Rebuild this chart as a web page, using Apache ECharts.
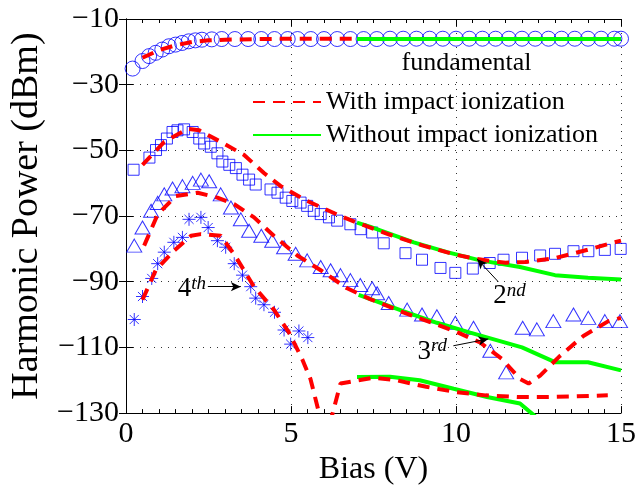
<!DOCTYPE html>
<html>
<head>
<meta charset="utf-8">
<script src="https://cdn.jsdelivr.net/npm/echarts@6/dist/echarts.min.js"></script>
<style>
html,body{margin:0;padding:0;background:#fff;}
#chart{width:639px;height:491px;}
</style>
</head>
<body>
<div id="chart"></div>
<script>
// ---- axis ticks ----
const xTicks = [0, 5, 10, 15];
const yTicks = [-130, -110, -90, -70, -50, -30, -10];

// ---- fundamental ----
const fundMeasured = [[0.2,-25.1],[0.5,-22.8],[0.7,-21.3],[0.9,-20.3],[1.1,-19.3],[1.3,-18.3],[1.5,-17.8],[1.7,-17.3],[1.9,-16.8],[2.1,-16.5],[2.3,-16.3],[2.6,-16.2],[2.9,-16.1],[3.3,-16.1],[3.7,-16.1],[4.1,-16.1],[4.5,-16.1],[4.9,-16.1],[5.2,-16.1],[5.6,-16.1],[6.0,-16.1],[6.4,-16.1],[6.8,-16.1],[7.2,-16.1],[7.6,-16.1],[8.0,-16.0],[8.4,-16.0],[8.8,-16.0],[9.2,-16.0],[9.6,-16.0],[10.0,-16.0],[10.4,-16.0],[10.8,-16.0],[11.2,-16.0],[11.6,-16.0],[12.0,-16.0],[12.4,-16.0],[12.8,-16.0],[13.2,-16.0],[13.6,-16.0],[14.0,-16.0],[14.4,-16.0],[14.8,-16.0],[15.0,-16.0]];
const fundWithII = [[0.5,-21.8],[1.0,-19.5],[1.5,-18.0],[2.0,-17.0],[2.5,-16.5],[3.0,-16.3],[4.0,-16.1],[5.0,-16.0],[6.0,-16.0],[7.0,-16.0]];
const fundWithoutII = [[7.0,-16.1],[9.0,-16.1],[11.0,-16.1],[13.0,-16.1],[15.0,-16.1]];

// ---- 2nd harmonic ----
const h2Measured = [[0.23,-55.9],[0.71,-52.2],[0.91,-49.9],[1.06,-48.4],[1.24,-46.4],[1.41,-44.4],[1.56,-43.9],[1.76,-43.6],[2.02,-44.4],[2.22,-46.4],[2.37,-47.9],[2.57,-48.9],[2.77,-50.9],[2.92,-53.4],[3.13,-54.4],[3.33,-55.4],[3.53,-57.4],[3.73,-58.9],[3.93,-60.4],[4.38,-61.9],[4.59,-62.9],[4.84,-64.4],[5.04,-65.4],[5.29,-65.9],[5.49,-66.9],[5.69,-68.4],[5.90,-69.4],[6.15,-70.4],[6.40,-71.4],[6.80,-72.5],[7.11,-74.0],[7.46,-75.0],[7.81,-78.3],[8.47,-81.3],[8.97,-83.3],[9.53,-85.8],[9.98,-87.3],[10.51,-86.0],[11.02,-84.3],[11.44,-83.3],[12.0,-82.7],[12.55,-82.0],[13.0,-81.5],[13.56,-80.7],[14.01,-80.7],[14.51,-80.3],[14.99,-80.0]];
const h2WithII = [[0.5,-54.4],[1.16,-47.4],[1.87,-43.4],[2.22,-43.9],[2.87,-47.4],[3.58,-51.4],[4.18,-56.9],[4.69,-60.9],[5.49,-65.4],[6.5,-70.0],[7.0,-72.0],[8.0,-75.7],[9.0,-79.0],[10.0,-81.8],[10.5,-82.8],[11.0,-83.6],[11.5,-84.2],[12.1,-84.0],[13.0,-82.8],[13.9,-80.5],[14.8,-78.0],[15.0,-77.5]];
const h2WithoutII = [[7.0,-72.0],[7.41,-73.3],[8.72,-78.0],[9.73,-81.0],[10.73,-83.5],[11.94,-85.5],[13.0,-88.0],[14.0,-88.8],[15.0,-89.3]];

// ---- 3rd harmonic ----
const h3Measured = [[0.25,-79.0],[0.5,-73.5],[0.76,-68.4],[0.96,-66.0],[1.16,-63.4],[1.41,-61.6],[1.71,-60.9],[2.02,-59.9],[2.27,-58.9],[2.52,-59.4],[2.87,-63.4],[3.18,-67.4],[3.48,-71.0],[3.73,-74.5],[4.1,-76.0],[4.43,-77.5],[4.79,-79.5],[5.14,-81.5],[5.49,-83.5],[5.9,-85.5],[6.2,-86.5],[6.5,-88.0],[6.8,-89.5],[7.1,-91.0],[7.46,-92.0],[7.61,-93.5],[7.96,-96.5],[8.52,-98.5],[8.97,-100.0],[9.42,-100.5],[9.98,-102.5],[10.53,-104.0],[11.04,-111.0],[11.52,-117.6],[12.02,-104.0],[12.45,-104.5],[12.95,-102.0],[13.56,-100.0],[14.01,-101.0],[14.51,-102.0],[14.97,-102.0]];
const h3WithII = [[0.55,-79.0],[0.96,-69.5],[1.51,-63.9],[2.17,-62.9],[2.77,-64.4],[3.28,-66.4],[3.88,-70.4],[4.48,-76.0],[5.19,-82.0],[5.9,-86.5],[6.7,-92.0],[7.4,-95.3],[8.4,-99.3],[9.4,-103.0],[10.0,-105.2],[10.73,-108.5],[11.39,-113.5],[11.94,-119.6],[12.2,-121.0],[12.55,-118.6],[13.15,-112.6],[13.86,-106.5],[14.62,-102.0],[15.0,-101.0]];
const h3WithoutII = [[7.05,-94.0],[8.42,-99.0],[9.42,-102.5],[10.43,-105.5],[12.0,-110.0],[13.0,-114.5],[14.0,-114.5],[15.0,-117.0]];

// ---- 4th harmonic ----
const h4Measured = [[0.25,-101.5],[0.5,-94.5],[0.78,-89.0],[0.96,-84.5],[1.16,-81.0],[1.45,-78.0],[1.71,-76.5],[1.91,-71.0],[2.27,-70.4],[2.49,-73.5],[2.77,-77.5],[3.02,-79.5],[3.28,-84.5],[3.53,-88.0],[3.78,-91.5],[3.93,-95.0],[4.18,-97.0],[4.5,-99.3],[4.79,-104.7],[4.99,-109.0],[5.24,-105.0],[5.51,-107.0]];
const h4WithII = [[0.5,-95.5],[0.9,-86.5],[1.46,-80.5],[1.97,-76.0],[2.27,-75.5],[2.87,-76.0],[3.3,-82.0],[3.88,-91.5],[4.48,-98.5],[4.94,-105.5],[5.34,-113.6],[5.59,-119.6],[6.05,-138.0],[6.5,-121.0],[7.5,-119.2],[8.2,-120.0],[9.1,-122.0],[10.0,-123.6],[10.9,-124.6],[11.85,-125.1],[12.75,-125.1],[13.66,-124.9],[14.6,-124.6]];
const h4WithoutII = [[7.0,-119.0],[8.0,-118.9],[8.9,-120.0],[9.93,-122.6],[10.94,-125.1],[11.94,-127.1],[12.4,-131.0]];

// ---- annotations (data coordinates) ----
const labelFundamental = {text: 'fundamental', at: [8.35, -19.6]};
const harmonicLabels = [
  {base: '2', sup: 'nd', at: [11.13, -89.8], tail: [11.28, -90.0], head: [10.64, -83.1]},
  {base: '3', sup: 'rd', at: [8.83, -106.8], tail: [9.92, -109.5], head: [10.98, -107.4]},
  {base: '4', sup: 'th', at: [1.57, -87.8], tail: [2.48, -91.5], head: [3.48, -91.5]}
];

const WITH = 'With impact ionization';
const WITHOUT = 'Without impact ionization';
const FONT = 'Liberation Serif';
const BLUE = '#0000ff';

const chart = echarts.init(document.getElementById('chart'), null, {renderer: 'canvas'});

function markerSeries(name, data, symbol, size) {
  return {
    name: name, type: 'scatter', data: data, symbol: symbol, symbolSize: size,
    itemStyle: {color: 'transparent', borderColor: BLUE, borderWidth: 1},
    z: 2, silent: true
  };
}
function lineSeries(name, data, dashed) {
  return {
    name: name, type: 'line', data: data, symbol: 'none', showSymbol: false,
    lineStyle: dashed ? {color: '#ff0000', width: 4, type: [12, 8]} : {color: '#00ff00', width: 4, type: 'solid'},
    itemStyle: {color: dashed ? '#ff0000' : '#00ff00'},
    z: dashed ? 4 : 3, clip: true, silent: true
  };
}

const starPath = 'path://M0,-10L0,10M-10,0L10,0M-7,-7L7,7M-7,7L7,-7';

const annotationSeries = {
  name: 'annotations', type: 'line', data: [], silent: true,
  markLine: {
    silent: true, animation: false,
    symbol: ['none', 'arrow'], symbolSize: [7, 10],
    label: {show: false},
    lineStyle: {color: '#000', width: 1, type: 'solid'},
    data: harmonicLabels.map(a => [{coord: a.tail}, {coord: a.head}])
  }
};

const axisCommon = {
  type: 'value', min: xTicks[0], max: xTicks[xTicks.length - 1], interval: xTicks[1] - xTicks[0],
  axisLine: {show: true, lineStyle: {color: '#000', width: 1}},
  axisTick: {show: true, inside: true, length: 7, lineStyle: {color: '#000'}},
  minorTick: {show: true, splitNumber: 10, length: 4, lineStyle: {color: '#000'}},
};

const option = {
  animation: false,
  backgroundColor: '#fff',
  grid: {left: 125, right: 18, top: 19, bottom: 73, containLabel: false},
  legend: {
    data: [WITH, WITHOUT], orient: 'vertical', left: 247, top: 84,
    itemWidth: 68, itemHeight: 14, itemGap: 7,
    itemStyle: {opacity: 0},
    textStyle: {fontFamily: FONT, fontSize: 26, color: '#000', lineHeight: 26},
    selectedMode: false
  },
  xAxis: [
    Object.assign({}, axisCommon, {
      position: 'bottom',
      name: 'Bias (V)', nameLocation: 'middle', nameGap: 34,
      nameTextStyle: {fontFamily: FONT, fontSize: 32, color: '#000'},
      axisLabel: {fontFamily: FONT, fontSize: 30, color: '#000', margin: 6},
      splitLine: {show: true, lineStyle: {color: '#333', type: [1, 6], width: 1}}
    }),
    Object.assign({}, axisCommon, {
      position: 'top', axisLabel: {show: false}, splitLine: {show: false}
    })
  ],
  yAxis: [
    {
      type: 'value', min: yTicks[0], max: yTicks[yTicks.length - 1], interval: yTicks[1] - yTicks[0],
      position: 'left',
      name: 'Harmonic Power (dBm)', nameLocation: 'middle', nameGap: 80,
      nameTextStyle: {fontFamily: FONT, fontSize: 38, color: '#000'},
      axisLine: {show: true, lineStyle: {color: '#000', width: 1}},
      axisTick: {show: true, inside: true, length: 7, lineStyle: {color: '#000'}},
      axisLabel: {fontFamily: FONT, fontSize: 30, color: '#000', margin: 7,
        formatter: v => (v < 0 ? '\u2212' + Math.abs(v) : String(v))},
      splitLine: {show: true, lineStyle: {color: '#333', type: [1, 6], width: 1}}
    },
    {
      type: 'value', min: yTicks[0], max: yTicks[yTicks.length - 1], interval: yTicks[1] - yTicks[0],
      position: 'right',
      axisLine: {show: true, lineStyle: {color: '#000', width: 1}},
      axisTick: {show: true, inside: true, length: 7, lineStyle: {color: '#000'}},
      axisLabel: {show: false}, splitLine: {show: false}
    }
  ],
  series: [
    markerSeries('Fundamental (measured)', fundMeasured, 'circle', 15),
    markerSeries('2nd harmonic (measured)', h2Measured, 'rect', 11),
    markerSeries('3rd harmonic (measured)', h3Measured, 'triangle', [15, 13]),
    markerSeries('4th harmonic (measured)', h4Measured, starPath, 13),
    lineSeries(WITH, fundWithII, true),
    lineSeries(WITH, h2WithII, true),
    lineSeries(WITH, h3WithII, true),
    lineSeries(WITH, h4WithII, true),
    lineSeries(WITHOUT, fundWithoutII, false),
    lineSeries(WITHOUT, h2WithoutII, false),
    lineSeries(WITHOUT, h3WithoutII, false),
    lineSeries(WITHOUT, h4WithoutII, false),
    annotationSeries
  ]
};

chart.setOption(option);

// place text annotations through the axes' own conversion
const toPx = p => chart.convertToPixel({xAxisIndex: 0, yAxisIndex: 0}, p);
const graphics = [];
const fp = toPx(labelFundamental.at);
graphics.push({
  type: 'text', x: fp[0], y: fp[1], silent: true, z: 10,
  style: {text: labelFundamental.text, fontFamily: FONT, fontSize: 26, fill: '#000', verticalAlign: 'top', align: 'left'}
});
harmonicLabels.forEach(a => {
  const p = toPx(a.at);
  graphics.push({
    type: 'text', x: p[0], y: p[1], silent: true, z: 10,
    style: {
      text: '{b|' + a.base + '}{s|' + a.sup + '}',
      verticalAlign: 'top', align: 'left',
      rich: {
        b: {fontFamily: FONT, fontSize: 27, fill: '#000', lineHeight: 28, verticalAlign: 'bottom'},
        s: {fontFamily: FONT, fontSize: 19, fontStyle: 'italic', fill: '#000', lineHeight: 19, verticalAlign: 'top'}
      }
    }
  });
});
chart.setOption({graphic: graphics});
</script>
</body>
</html>
